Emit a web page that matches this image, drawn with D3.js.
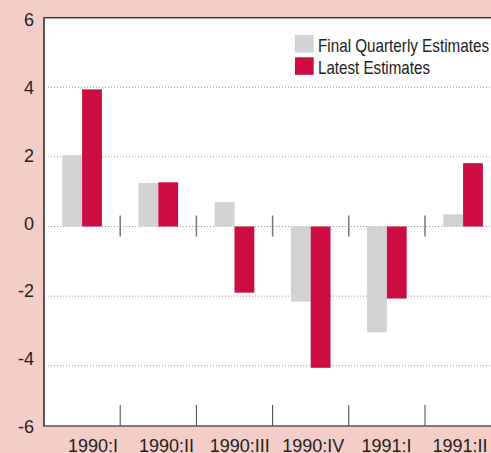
<!DOCTYPE html>
<html>
<head>
<meta charset="utf-8">
<script src="https://cdn.jsdelivr.net/npm/d3@7"></script>
<style>
  html, body { margin: 0; padding: 0; background: #f4cdc6; }
  svg { display: block; }
</style>
</head>
<body>
<div id="chart"></div>
<script>
// Quarters and estimates (percent)
const quarters = ["1990:I", "1990:II", "1990:III", "1990:IV", "1991:I", "1991:II"];
const finalEstimates = [2.05, 1.25, 0.70, -2.16, -3.04, 0.35];
const latestEstimates = [3.94, 1.27, -1.90, -4.06, -2.07, 1.82];
const yTicks = [6, 4, 2, 0, -2, -4, -6];
const gridValues = [4, 2, 0, -2, -4];
const legendLabels = ["Final Quarterly Estimates", "Latest Estimates"];

const width = 491, height = 453;
const plot = { left: 44, top: 17.5, bottom: 426 };
const colors = { final: "#d1d2d4", latest: "#cd0c41", bg: "#f4cdc6" };

const svg = d3.select("#chart").append("svg")
    .attr("width", width)
    .attr("height", height);

svg.append("rect")
    .attr("width", width).attr("height", height)
    .attr("fill", colors.bg);

// Plot area
svg.append("rect")
    .attr("x", plot.left).attr("y", plot.top)
    .attr("width", width - plot.left).attr("height", plot.bottom - plot.top)
    .attr("fill", "#fff");

svg.append("line")
    .attr("x1", plot.left).attr("x2", width)
    .attr("y1", plot.top).attr("y2", plot.top)
    .attr("stroke", "#333").attr("stroke-width", 1);
svg.append("line")
    .attr("x1", plot.left).attr("x2", width)
    .attr("y1", plot.top + 1).attr("y2", plot.top + 1)
    .attr("stroke", "#aaa").attr("stroke-width", 1);

// Scales
const x = d3.scaleBand().domain(quarters).range([44, 501.2]);
const y = d3.scaleLinear().domain([-6, 6]).range([435.3, 17.7]);
const yLabel = d3.scaleLinear().domain([-6, 6]).range([426.5, 20]);
const xLabel = d3.scalePoint().domain(quarters).range([93, 460]);
const barW = x.bandwidth() * 0.26;

// Grid lines
svg.append("g")
  .selectAll("line")
  .data(gridValues)
  .join("line")
    .attr("x1", 48).attr("x2", width)
    .attr("y1", d => y(d)).attr("y2", d => y(d))
    .attr("stroke", "#999")
    .attr("stroke-width", 1)
    .attr("stroke-dasharray", "1,2");

// Bars
const groups = svg.append("g")
  .selectAll("g")
  .data(quarters)
  .join("g")
    .attr("transform", d => `translate(${x(d) + x.bandwidth() / 2},0)`);

groups.append("rect")
    .attr("x", -barW)
    .attr("width", barW)
    .attr("y", (d, i) => y(Math.max(0, finalEstimates[i])))
    .attr("height", (d, i) => Math.abs(y(finalEstimates[i]) - y(0)))
    .attr("fill", colors.final);

groups.append("rect")
    .attr("x", 0)
    .attr("width", barW)
    .attr("y", (d, i) => y(Math.max(0, latestEstimates[i])))
    .attr("height", (d, i) => Math.abs(y(latestEstimates[i]) - y(0)))
    .attr("fill", colors.latest);

// Separator ticks on the zero line and bottom axis
const boundaries = quarters.slice(1).map(q => x(q));
svg.append("g")
  .selectAll("line")
  .data(boundaries)
  .join("line")
    .attr("x1", d => d).attr("x2", d => d)
    .attr("y1", y(0) - 11).attr("y2", y(0) + 10)
    .attr("stroke", "#777").attr("stroke-width", 1.5);

svg.append("g")
  .selectAll("line")
  .data(boundaries)
  .join("line")
    .attr("x1", d => d).attr("x2", d => d)
    .attr("y1", plot.bottom - 21).attr("y2", plot.bottom)
    .attr("stroke", "#444").attr("stroke-width", 1);

// Axis lines
svg.append("line")
    .attr("x1", plot.left).attr("x2", plot.left)
    .attr("y1", plot.top).attr("y2", plot.bottom)
    .attr("stroke", "#555").attr("stroke-width", 2);
svg.append("line")
    .attr("x1", plot.left - 1).attr("x2", width)
    .attr("y1", plot.bottom).attr("y2", plot.bottom)
    .attr("stroke", "#555").attr("stroke-width", 1.5);

// Y labels
svg.append("g")
  .selectAll("text")
  .data(yTicks)
  .join("text")
    .attr("x", 34)
    .attr("y", d => yLabel(d))
    .attr("dy", "0.36em")
    .attr("text-anchor", "end")
    .attr("font-family", "Liberation Sans, Arial, sans-serif")
    .attr("font-size", 18)
    .attr("fill", "#222")
    .text(d => d);

// X labels
svg.append("g")
  .selectAll("text")
  .data(quarters)
  .join("text")
    .attr("x", d => xLabel(d))
    .attr("y", 452)
    .attr("text-anchor", "middle")
    .attr("font-family", "Liberation Sans, Arial, sans-serif")
    .attr("font-size", 18)
    .attr("fill", "#222")
    .text(d => d);

// Legend
const legend = svg.append("g").attr("transform", "translate(295,35)");
const legendColors = [colors.final, colors.latest];
const legendWidths = [171, 112];
legendLabels.forEach((label, i) => {
  const row = legend.append("g").attr("transform", `translate(0,${i * 22.3})`);
  row.append("rect")
      .attr("width", 18.7).attr("height", 17.5)
      .attr("fill", legendColors[i]);
  row.append("text")
      .attr("x", 23)
      .attr("y", 16.7)
      .attr("font-family", "Liberation Sans Narrow, Liberation Sans, Arial, sans-serif")
      .attr("font-size", 19)
      .attr("textLength", legendWidths[i])
      .attr("lengthAdjust", "spacingAndGlyphs")
      .attr("fill", "#222")
      .text(label);
});
</script>
</body>
</html>
